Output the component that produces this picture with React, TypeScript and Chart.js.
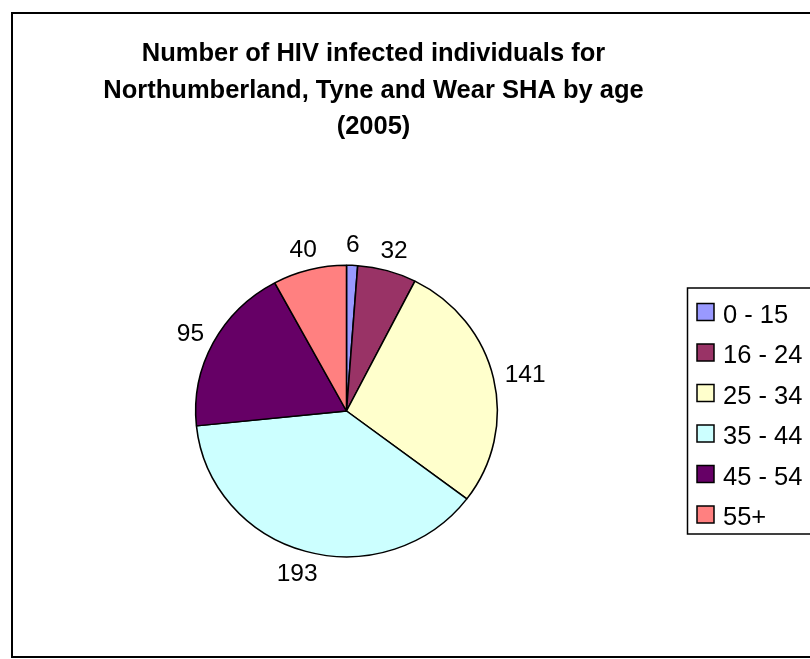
import React, { useEffect, useRef } from "react";
import { Chart, registerables } from "chart.js";

Chart.register(...registerables);

const titleLines = [
  "Number of HIV infected individuals for",
  "Northumberland, Tyne and Wear SHA by age",
  "(2005)",
];
const categories = ["0 - 15", "16 - 24", "25 - 34", "35 - 44", "45 - 54", "55+"];
const values = [6, 32, 141, 193, 95, 40];
const colors = ["#9999FF", "#993366", "#FFFFCC", "#CCFFFF", "#660066", "#FF8080"];

const FONT = '"Liberation Sans", Arial, Helvetica, sans-serif';
const SX = 1.035;

export default function App() {
  const ref = useRef<HTMLCanvasElement>(null);

  useEffect(() => {
    const canvas = ref.current;
    if (!canvas) return;

    const plugin = {
      id: "excelLook",
      beforeDraw(chart: any) {
        const ctx = chart.ctx as CanvasRenderingContext2D;
        ctx.save();
        ctx.fillStyle = "#ffffff";
        ctx.fillRect(0, 0, chart.width, chart.height);
        ctx.strokeStyle = "#000000";
        ctx.lineWidth = 2;
        ctx.strokeRect(12, 13, 810, 644);
        ctx.fillStyle = "#000000";
        ctx.font = `bold 25.5px ${FONT}`;
        ctx.textAlign = "center";
        ctx.textBaseline = "alphabetic";
        titleLines.forEach((t, i) => ctx.fillText(t, 373.5, 61 + i * 36.6));
        ctx.restore();
      },
      beforeDatasetsDraw(chart: any) {
        const ctx = chart.ctx as CanvasRenderingContext2D;
        const a = chart.getDatasetMeta(0).data[0];
        ctx.save();
        ctx.translate(a.x, a.y);
        ctx.scale(SX, 1);
        ctx.translate(-a.x, -a.y);
      },
      afterDatasetsDraw(chart: any) {
        const ctx = chart.ctx as CanvasRenderingContext2D;
        ctx.restore();
        ctx.save();
        const size = 24.5;
        ctx.font = `${size}px ${FONT}`;
        ctx.textAlign = "center";
        ctx.textBaseline = "alphabetic";
        ctx.fillStyle = "#000000";
        const meta = chart.getDatasetMeta(0);
        meta.data.forEach((arc: any, i: number) => {
          const { x, y, startAngle, endAngle, outerRadius } = arc.getProps(
            ["x", "y", "startAngle", "endAngle", "outerRadius"],
            true
          );
          const mid = (startAngle + endAngle) / 2;
          const dx = Math.cos(mid);
          const dy = Math.sin(mid);
          const txt = String(values[i]);
          const w = ctx.measureText(txt).width;
          const h = 20;
          const g = 12;
          const lx = x + dx * (outerRadius * SX + g + w / 2);
          const ly = y + dy * (outerRadius + g + h / 2);
          ctx.fillText(txt, lx, ly + 0.358 * size);
        });

        // legend
        ctx.lineWidth = 1.5;
        ctx.strokeStyle = "#000000";
        ctx.strokeRect(687.5, 288, 200, 246);
        const lsize = 25.5;
        ctx.font = `${lsize}px ${FONT}`;
        ctx.textAlign = "left";
        categories.forEach((c, i) => {
          const yc = 313.5 + i * 40.5;
          ctx.fillStyle = colors[i];
          ctx.fillRect(697, yc - 10, 17, 17);
          ctx.strokeRect(697, yc - 10, 17, 17);
          ctx.fillStyle = "#000000";
          ctx.fillText(c, 723, yc + 0.358 * lsize);
        });
        ctx.restore();
      },
    };

    const chart = new Chart(canvas, {
      type: "pie",
      data: {
        labels: categories,
        datasets: [
          {
            data: values,
            backgroundColor: colors,
            borderColor: "#000000",
            borderWidth: 1.5,
          },
        ],
      },
      options: {
        responsive: false,
        animation: false,
        events: [],
        layout: { padding: { left: 200, right: 317, top: 264.5, bottom: 101.5 } },
        plugins: {
          legend: { display: false },
          title: { display: false },
          tooltip: { enabled: false },
        },
      },
      plugins: [plugin],
    });

    return () => chart.destroy();
  }, []);

  return (
    <div style={{ position: "fixed", left: 0, top: 0, width: 810, height: 659 }}>
      <canvas ref={ref} width={810} height={659} style={{ display: "block" }} />
    </div>
  );
}
